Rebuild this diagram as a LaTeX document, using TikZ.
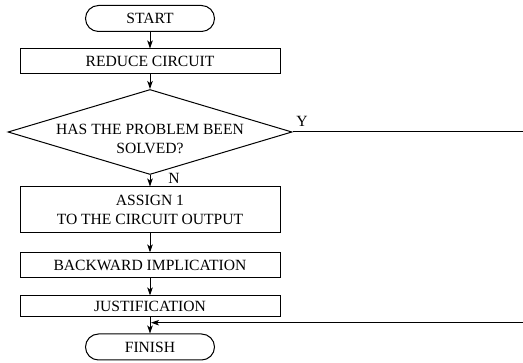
\documentclass[tikz,border=0pt]{standalone}
\usepackage{fontspec}
\setmainfont{Liberation Serif}
\usetikzlibrary{arrows.meta,shapes.geometric}

\begin{document}
\begin{tikzpicture}[x=1pt, y=-1pt,
    font=\fontsize{15.6}{19}\selectfont,
    every path/.style={line width=1pt},
    terminal/.style={draw, rectangle, rounded corners=13pt, minimum width=129pt, minimum height=26pt, inner sep=0pt},
    process/.style={draw, rectangle, minimum width=260pt, inner sep=0pt, align=center},
    decision/.style={draw, diamond, minimum width=284pt, minimum height=85pt, inner sep=0pt},
    flow/.style={-{Stealth[length=8pt, width=5.5pt, inset=2pt]}}]
      \useasboundingbox (0,0) rectangle (523,363);
      %
      \node[terminal] (start) at (150,18.5) {START};                        % top
      \node[process, minimum height=25pt] (reduce) at (150,61.5) {REDUCE CIRCUIT};
      %
      \node[decision] (solved) at (150,132) {};                             % test
      \node[align=center] (solvedtxt) at (150,138.5) {HAS THE PROBLEM BEEN\\SOLVED?};
      \node (yes) at (302,121) {Y};
      \node (no) at (174,178) {N};
      %%
      \node[process, minimum height=46pt] (assign) at (150,210) {ASSIGN 1\\TO THE CIRCUIT OUTPUT};
      \node[process, minimum height=24.5pt] (backward) at (150,265.2) {BACKWARD IMPLICATION};
      \node[process, minimum height=20.5pt] (justify) at (150,306.2) {JUSTIFICATION};
      \node[terminal] (finish) at (150,347) {FINISH};                       % bottom
      %
      \coordinate (yend) at (523,132);                                      % loose ends
      \coordinate (back) at (523,322.7);
      \coordinate (merge) at (151,322.7);
      %
      \draw[flow] (start) -- (reduce);                                      % main line
      \draw[flow] (reduce) -- (solved);
      \draw[flow] (solved.south) -- (assign);
      \draw[flow] (assign) -- (backward);
      \draw[flow] (backward) -- (justify);
      \draw[flow] (justify) -- (finish);
      %
      \draw (solved.east) -- (yend);                                        % yes branch
      \draw[flow] (back) -- (merge);
      %
    \end{tikzpicture}
\end{document}
